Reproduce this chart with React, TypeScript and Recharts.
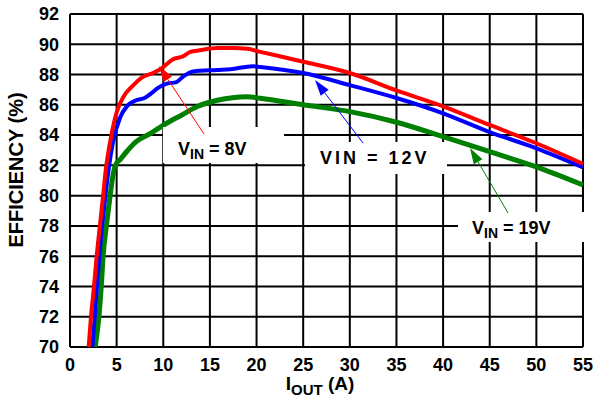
import { CartesianGrid, Line, LineChart, XAxis, YAxis } from "recharts";

const xTicks = [0, 5, 10, 15, 20, 25, 30, 35, 40, 45, 50, 55];
const yTicks = [70, 72, 74, 76, 78, 80, 82, 84, 86, 88, 90, 92];

// VIN = 8V
const iout8V = [2.0, 2.25, 2.57, 2.86, 3.2, 3.55, 3.85, 4.2, 4.6, 5.0, 5.7, 6.8, 7.7, 8.9, 9.8, 11.0, 12.1, 12.9, 13.9, 15.8, 17.5, 19.0, 20.4, 25, 30, 35, 40, 45, 50, 55];
const eff8V = [70, 72, 74, 76, 78, 80, 81.8, 83.2, 84.5, 85.5, 86.5, 87.3, 87.8, 88.1, 88.4, 89.0, 89.2, 89.5, 89.6, 89.75, 89.75, 89.7, 89.5, 88.85, 88.1, 86.95, 85.9, 84.67, 83.46, 82.1];

// VIN = 12V
const iout12V = [2.4, 2.65, 2.9, 3.14, 3.45, 3.8, 4.2, 4.6, 5.4, 6.1, 7.1, 8.0, 8.8, 9.4, 10.4, 11.4, 12.1, 13.2, 15.8, 17.2, 19.6, 20.4, 25, 30, 35, 40, 45, 50, 55];
const eff12V = [70, 72, 74, 76, 78, 80, 82, 83.5, 85.2, 85.9, 86.3, 86.45, 86.8, 87.1, 87.4, 87.5, 87.85, 88.2, 88.3, 88.35, 88.55, 88.5, 88.1, 87.3, 86.45, 85.44, 84.2, 83.13, 81.87];

// VIN = 19V
const iout19V = [2.7, 3.1, 3.35, 3.55, 3.9, 4.3, 4.6, 4.85, 5.4, 6.2, 7.1, 8.6, 10.4, 12.0, 13.7, 15.8, 19.0, 20.4, 25, 30, 35, 40, 45, 50, 55];
const eff19V = [70, 72, 74, 76, 78, 80, 81.3, 82.0, 82.4, 83.0, 83.57, 84.1, 84.8, 85.33, 85.9, 86.3, 86.54, 86.43, 86.0, 85.55, 84.85, 83.9, 82.9, 81.9, 80.7];

const toRows = (xs: number[], ys: number[]) => xs.map((iout, i) => ({ iout, eff: ys[i] }));

const FONT = "'Liberation Sans', Arial, Helvetica, sans-serif";
const tickStyle = { fontSize: 18, fontWeight: 700, fill: "#000", fontFamily: FONT };

function Arrow({ from, to, color }: { from: [number, number]; to: [number, number]; color: string }) {
  const dx = to[0] - from[0];
  const dy = to[1] - from[1];
  const len = Math.hypot(dx, dy);
  const ux = dx / len;
  const uy = dy / len;
  const bx = to[0] - ux * 16;
  const by = to[1] - uy * 16;
  const nx = -uy * 5;
  const ny = ux * 5;
  return (
    <g>
      <line x1={from[0]} y1={from[1]} x2={bx} y2={by} stroke={color} strokeWidth={1} />
      <polygon points={`${to[0]},${to[1]} ${bx + nx},${by + ny} ${bx - nx},${by - ny}`} fill={color} />
    </g>
  );
}

export default function App() {
  return (
    <div style={{ position: "absolute", left: 0, top: 0, width: 595, height: 402, background: "#fff" }}>
      <LineChart width={595} height={402} margin={{ top: 14, right: 12, bottom: 25, left: 10 }}>
        <CartesianGrid stroke="#000" strokeWidth={2} />
        <XAxis
          type="number"
          dataKey="iout"
          domain={[0, 55]}
          ticks={xTicks}
          interval={0}
          height={30}
          tickSize={0}
          tickMargin={11}
          tickLine={false}
          axisLine={false}
          tick={tickStyle}
        />
        <YAxis
          type="number"
          domain={[70, 92]}
          ticks={yTicks}
          interval={0}
          width={60}
          tickSize={0}
          tickMargin={11}
          tickLine={false}
          axisLine={false}
          allowDataOverflow
          tick={tickStyle}
        />
        <Line data={toRows(iout19V, eff19V)} dataKey="eff" type="monotone" stroke="#008000" strokeWidth={5} dot={false} isAnimationActive={false} />
        <Line data={toRows(iout12V, eff12V)} dataKey="eff" type="monotone" stroke="#0000ff" strokeWidth={4} dot={false} isAnimationActive={false} />
        <Line data={toRows(iout8V, eff8V)} dataKey="eff" type="monotone" stroke="#ff0000" strokeWidth={4} dot={false} isAnimationActive={false} />
      </LineChart>
      <svg width={595} height={402} style={{ position: "absolute", left: 0, top: 0, pointerEvents: "none" }} fontFamily={FONT} fontWeight={700}>
        <text transform="translate(23,170) rotate(-90)" textAnchor="middle" fontSize={20} fill="#000">
          EFFICIENCY (%)
        </text>
        <text x={320} y={390} textAnchor="middle" fontSize={19} fill="#000">
          I<tspan fontSize={15} dy={5}>OUT</tspan>
          <tspan dy={-5}> (A)</tspan>
        </text>

        <rect x={163} y={127} width={121} height={36} fill="#fff" />
        <text x={178} y={155} fontSize={18} fill="#000">
          V<tspan fontSize={14} dy={4}>IN</tspan>
          <tspan dy={-4}> = 8V</tspan>
        </text>
        <Arrow from={[204, 134]} to={[159, 66]} color="#ff0000" />

        <rect x={305} y={142} width={142} height={32} fill="#fff" />
        <text x={320} y={164} fontSize={18} letterSpacing={3} fill="#000">
          VIN = 12V
        </text>
        <Arrow from={[363, 143]} to={[315, 80]} color="#0000ff" />

        <rect x={458} y={212} width={128} height={30} fill="#fff" />
        <text x={472} y={234} fontSize={18} fill="#000">
          V<tspan fontSize={14} dy={4}>IN</tspan>
          <tspan dy={-4}> = 19V</tspan>
        </text>
        <Arrow from={[508, 213]} to={[470, 148]} color="#008000" />
      </svg>
    </div>
  );
}
